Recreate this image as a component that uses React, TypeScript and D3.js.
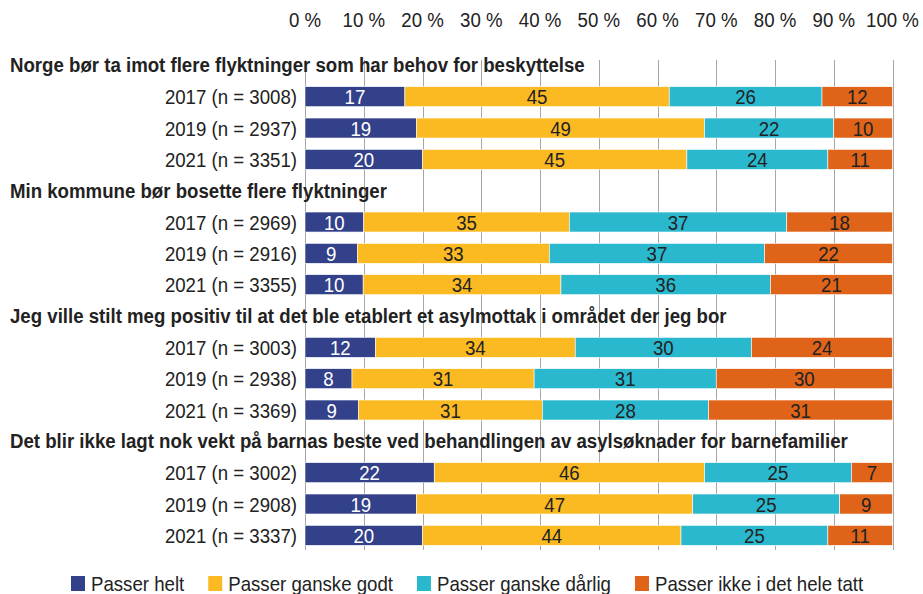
import React, { useEffect, useRef } from "react";
import * as d3 from "d3";

const ticks = [0, 10, 20, 30, 40, 50, 60, 70, 80, 90, 100];
const tickLabels = ticks.map((t) => `${t} %`);

const seriesNames = ["Passer helt", "Passer ganske godt", "Passer ganske dårlig", "Passer ikke i det hele tatt"];
const seriesColors = ["#33418a", "#fbba22", "#2ab8ce", "#df6318"];
const labelColors = ["#ffffff", "#222222", "#222222", "#222222"];

const groupTitles = [
  "Norge bør ta imot flere flyktninger som har behov for beskyttelse",
  "Min kommune bør bosette flere flyktninger",
  "Jeg ville stilt meg positiv til at det ble etablert et asylmottak i området der jeg bor",
  "Det blir ikke lagt nok vekt på barnas beste ved behandlingen av asylsøknader for barnefamilier",
];

const rowLabels = [
  ["2017 (n = 3008)", "2019 (n = 2937)", "2021 (n = 3351)"],
  ["2017 (n = 2969)", "2019 (n = 2916)", "2021 (n = 3355)"],
  ["2017 (n = 3003)", "2019 (n = 2938)", "2021 (n = 3369)"],
  ["2017 (n = 3002)", "2019 (n = 2908)", "2021 (n = 3337)"],
];

const passerHelt = [
  [17, 19, 20],
  [10, 9, 10],
  [12, 8, 9],
  [22, 19, 20],
];
const passerGanskeGodt = [
  [45, 49, 45],
  [35, 33, 34],
  [34, 31, 31],
  [46, 47, 44],
];
const passerGanskeDarlig = [
  [26, 22, 24],
  [37, 37, 36],
  [30, 31, 28],
  [25, 25, 25],
];
const passerIkke = [
  [12, 10, 11],
  [18, 22, 21],
  [24, 30, 31],
  [7, 9, 11],
];

const FONT = "'Liberation Sans', Arial, sans-serif";
const FS = 20.5;
const SX = 0.91;

export default function App() {
  const ref = useRef<SVGSVGElement>(null);

  useEffect(() => {
    const svg = d3.select(ref.current);
    svg.selectAll("*").remove();

    const x = d3.scaleLinear().domain([0, 1]).range([305, 892.5]);
    const y = d3.scalePoint<number>().domain(d3.range(16)).range([49.7, 551]).padding(0.5);
    const barH = 20;

    const tf = (tx: number, ty: number) => `translate(${tx},${ty}) scale(${SX},1)`;

    // gridlines
    svg
      .append("g")
      .selectAll("line")
      .data(ticks)
      .join("line")
      .attr("x1", (d) => Math.round(x(d / 100)) + 0.5)
      .attr("x2", (d) => Math.round(x(d / 100)) + 0.5)
      .attr("y1", 60)
      .attr("y2", 550)
      .attr("stroke", "#a6a6a6")
      .attr("stroke-width", 1);

    // tick labels
    svg
      .append("g")
      .selectAll("text")
      .data(ticks)
      .join("text")
      .attr("transform", (d) => tf(x(d / 100), 27))
      .attr("text-anchor", "middle")
      .attr("font-family", FONT)
      .attr("font-size", FS)
      .attr("fill", "#222")
      .text((d, i) => tickLabels[i]);

    const keys = [0, 1, 2, 3];
    const all = [passerHelt, passerGanskeGodt, passerGanskeDarlig, passerIkke];

    groupTitles.forEach((title, g) => {
      const titleIdx = g * 4;
      svg
        .append("text")
        .attr("transform", tf(10, (y(titleIdx) as number) + 7))
        .attr("font-family", FONT)
        .attr("font-size", FS)
        .attr("font-weight", "bold")
        .attr("fill", "#222")
        .text(title);

      const rows = rowLabels[g].map((lab, r) => {
        const obj: any = { label: lab, idx: titleIdx + 1 + r };
        keys.forEach((k) => (obj[k] = all[k][g][r]));
        return obj;
      });
      const stacked = d3.stack<any>().keys(keys.map(String)).offset(d3.stackOffsetExpand)(rows);

      stacked.forEach((layer, k) => {
        const lg = svg.append("g");
        lg.selectAll("rect")
          .data(layer)
          .join("rect")
          .attr("x", (d) => x(d[0]))
          .attr("width", (d) => x(d[1]) - x(d[0]))
          .attr("y", (d) => (y(d.data.idx) as number) - barH / 2)
          .attr("height", barH)
          .attr("fill", seriesColors[k])
          .attr("stroke", "#ffffff")
          .attr("stroke-width", 0.6);
        lg.selectAll("text")
          .data(layer)
          .join("text")
          .attr("transform", (d) => tf((x(d[0]) + x(d[1])) / 2, (y(d.data.idx) as number) + 7.5))
          .attr("text-anchor", "middle")
          .attr("font-family", FONT)
          .attr("font-size", FS)
          .attr("fill", labelColors[k])
          .text((d) => d.data[k]);
      });

      svg
        .append("g")
        .selectAll("text")
        .data(rows)
        .join("text")
        .attr("transform", (d) => tf(297, (y(d.idx) as number) + 7.5))
        .attr("text-anchor", "end")
        .attr("font-family", FONT)
        .attr("font-size", FS)
        .attr("fill", "#222")
        .text((d) => d.label);
    });

    // legend
    const lg = svg.append("g");
    let cx = 71;
    seriesNames.forEach((name, i) => {
      lg.append("rect")
        .attr("x", cx)
        .attr("y", 576)
        .attr("width", 14)
        .attr("height", 15)
        .attr("fill", seriesColors[i]);
      const t = lg
        .append("text")
        .attr("transform", tf(cx + 20, 591))
        .attr("font-family", FONT)
        .attr("font-size", FS)
        .attr("fill", "#222")
        .text(name);
      const w = (t.node() as SVGTextElement).getComputedTextLength() * SX;
      cx = cx + 20 + w + 24;
    });
  }, []);

  return (
    <svg
      ref={ref}
      width={923}
      height={594}
      style={{ position: "absolute", left: 0, top: 0, background: "#fff" }}
    />
  );
}
